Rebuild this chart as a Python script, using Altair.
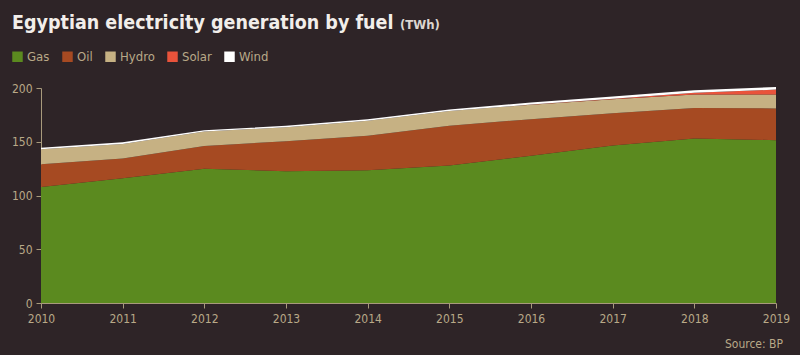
import altair as alt
import pandas as pd

years = [2010, 2011, 2012, 2013, 2014, 2015, 2016, 2017, 2018, 2019]
gas = [108, 116, 125, 122.5, 123.5, 128, 137, 146.5, 153, 151.5]
oil = [21, 18.5, 21, 28, 32, 37, 34, 30, 28.5, 29.5]
hydro = [14, 13.5, 13.5, 13, 14, 13.5, 13.5, 13, 12.5, 13]
solar = [0, 0, 0, 0, 0, 0, 0.1, 0.5, 1.5, 4.5]
wind = [1.5, 1.5, 1.3, 1.3, 1.4, 1.4, 2.0, 2.2, 2.5, 2.5]

fuels = ["Gas", "Oil", "Hydro", "Solar", "Wind"]
colors = ["#5b8a1f", "#a64a22", "#c6b183", "#e9533b", "#ffffff"]
series = [gas, oil, hydro, solar, wind]

title_text = "Egyptian electricity generation by fuel"
unit_text = "(TWh)"
source_text = "Source: BP"

rows = []
for i, yr in enumerate(years):
    for k, (f, s) in enumerate(zip(fuels, series)):
        rows.append({"year": yr, "fuel": f, "twh": s[i], "order": k})
df = pd.DataFrame(rows)

BG = "#2e2427"
TAN = "#b9a988"
AXC = "#a89a7c"
FONT = "DejaVu Sans Condensed, Liberation Sans Narrow, sans-serif"

area = alt.Chart(df).mark_area(interpolate="linear").encode(
    x=alt.X("year:Q",
            scale=alt.Scale(domain=[2010, 2019], nice=False, zero=False),
            axis=alt.Axis(values=years, format="d", title=None, grid=False,
                          domainColor=AXC, tickColor=AXC, tickSize=5,
                          labelColor=TAN, labelFont=FONT, labelFontSize=12,
                          labelPadding=5, labelFlush=False)),
    y=alt.Y("twh:Q", stack="zero",
            scale=alt.Scale(domain=[0, 200], nice=False),
            axis=alt.Axis(values=[0, 50, 100, 150, 200], title=None, grid=False,
                          domainColor=AXC, tickColor=AXC, tickSize=5,
                          labelColor=TAN, labelFont=FONT, labelFontSize=12,
                          labelPadding=4)),
    color=alt.Color("fuel:N", sort=fuels,
                    scale=alt.Scale(domain=fuels, range=colors),
                    legend=alt.Legend(orient="none", direction="horizontal",
                                      legendX=-30, legendY=-38, title=None,
                                      symbolType="square", symbolSize=110,
                                      symbolStrokeWidth=0, symbolOpacity=1,
                                      labelColor=TAN, labelFont=FONT,
                                      labelFontSize=13, columnPadding=11,
                                      symbolOffset=0, labelOffset=3)),
    order=alt.Order("order:Q", sort="ascending"),
)

title_df = pd.DataFrame({"t": [title_text]})
title = alt.Chart(title_df).mark_text(
    align="left", baseline="alphabetic", font=FONT, fontSize=19.5,
    fontWeight="bold", color="#f2eeea"
).encode(x=alt.value(-29), y=alt.value(-59), text="t:N")

unit_df = pd.DataFrame({"t": [unit_text]})
unit = alt.Chart(unit_df).mark_text(
    align="left", baseline="alphabetic", font=FONT, fontSize=13,
    fontWeight="bold", color="#dcd6d0"
).encode(x=alt.value(359), y=alt.value(-59), text="t:N")

src_df = pd.DataFrame({"t": [source_text]})
src = alt.Chart(src_df).mark_text(
    align="right", baseline="alphabetic", font=FONT, fontSize=12,
    color=TAN
).encode(x=alt.value(742), y=alt.value(260), text="t:N")

chart = alt.layer(area, title, unit, src).properties(
    width=735, height=215,
    padding={"left": 41, "top": 88, "right": 24, "bottom": 52},
    autosize=alt.AutoSizeParams(type="none"),
    background=BG,
).configure_view(stroke=None)

chart.save("out.html", embed_options={"renderer": "svg", "actions": False})
